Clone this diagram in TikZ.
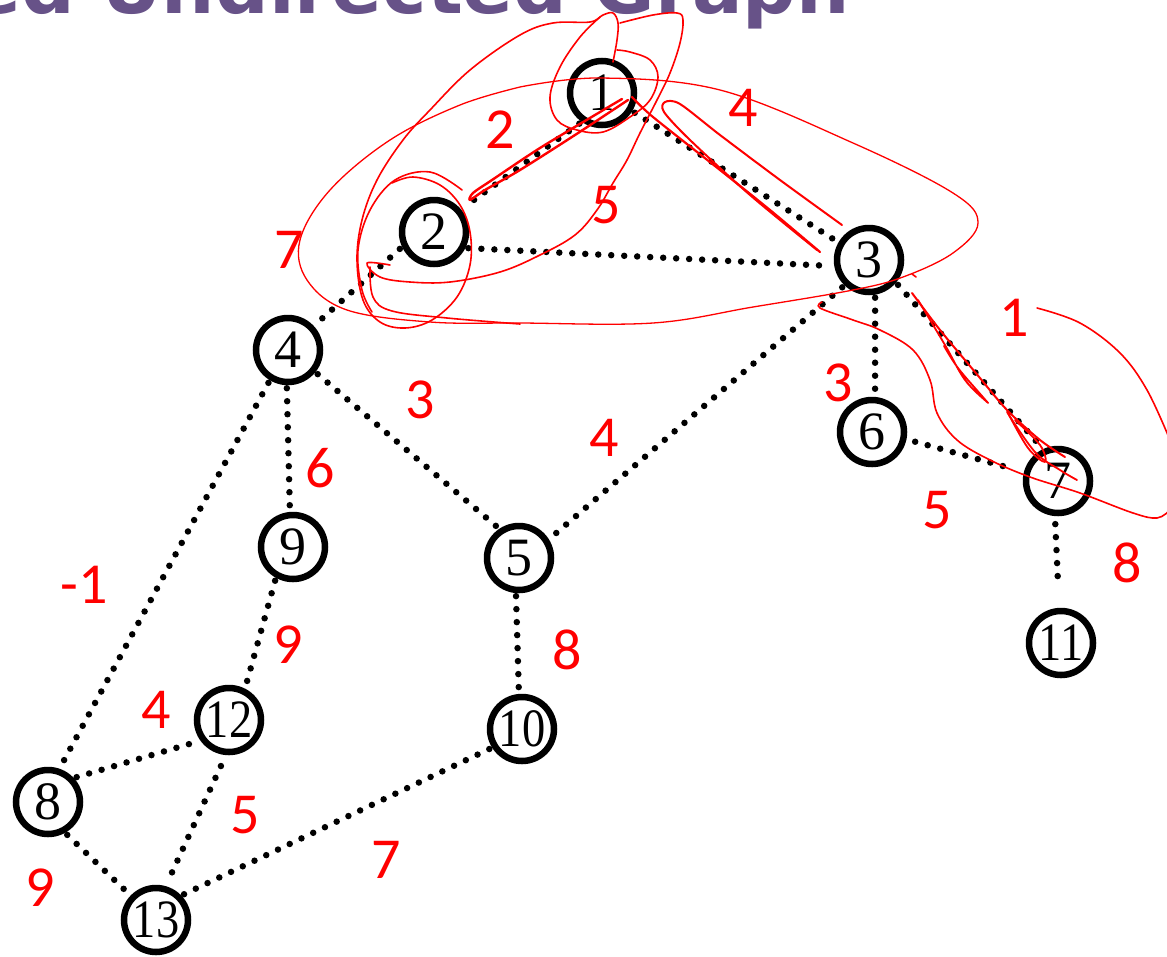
\documentclass[tikz,border=0pt]{standalone}
\usepackage{fontspec}
\newfontfamily\nodefont{Liberation Serif}
\newfontfamily\wfont{Carlito}
\newfontfamily\tfont{DejaVu Sans}
\definecolor{titlepurple}{RGB}{103,82,136}
\begin{document}
\begin{tikzpicture}[x=1pt,y=-1pt,
  vtx/.style={circle, draw=black, line width=6.5pt, minimum size=64pt, inner sep=0pt,
    font=\nodefont\fontsize{54}{54}\selectfont},
  wt/.style={text=red, inner sep=0pt, font=\wfont\fontsize{58}{58}\selectfont},
  dotline/.style={line width=6.5pt, dash pattern=on 0pt off 13pt, line cap=round, shorten <=3pt, shorten >=3pt},
  scrib/.style={red, line width=1.6pt, line cap=round, line join=round}]
\clip (0,0) rectangle (1167,956);
\useasboundingbox (0,0) rectangle (1167,956);
\fill[white] (0,0) rectangle (1167,956);

% title (cut off at the top, as in the reference)
\node[anchor=base east, text=titlepurple, inner sep=0pt,
  font=\tfont\bfseries\fontsize{75}{75}\selectfont] (title) at (850,13) {Weighted Undirected Graph};

% vertices
\node[vtx] (n1) at (602,93) {1};
\node[vtx] (n2) at (434,232) {2};
\node[vtx] (n3) at (869,260) {3};
\node[vtx] (n4) at (288,350) {4};
\node[vtx] (n5) at (519,558) {5};
\node[vtx] (n6) at (872,432) {6};
\node[vtx] (n7) at (1058,481) {7};
\node[vtx] (n8) at (48,802) {8};
\node[vtx] (n9) at (293,547) {9};
\node[vtx] (n10) at (522,729) {\scalebox{0.86}[1]{10}};
\node[vtx] (n11) at (1061,643) {\scalebox{0.86}[1]{11}};
\node[vtx] (n12) at (229,720) {\scalebox{0.86}[1]{12}};
\node[vtx] (n13) at (156,920) {\scalebox{0.86}[1]{13}};

% edges
\draw[dotline, shorten >=12pt] (n1.235) -- (n2.40);
\draw[dotline] (n1.-31) -- (n3.150);
\draw[dotline] (n2.-27) -- (n3.190);
\draw[dotline] (n2.205) -- (n4.43);
\draw[dotline] (n3.226) -- (n5.32);
\draw[dotline] (n3.-80) -- (n6.85);
\draw[dotline] (n3.-40) -- (n7.115);
\draw[dotline, shorten <=9pt, shorten >=13pt] (n6.-12) -- (n7.165);
\draw[dotline, shorten <=8pt, shorten >=25pt] (n7.-95) -- (n11.93);
\draw[dotline] (n4.-39) -- (n5.124);
\draw[dotline] (n4.-92) -- (n9.95);
\draw[dotline] (n4.239) -- (n8.71);
\draw[dotline] (n9.241) -- (n12.63);
\draw[dotline] (n5.-95) -- (n10.95);
\draw[dotline] (n8.43) -- (n12.216);
\draw[dotline] (n8.-61) -- (n13.136);
\draw[dotline, shorten <=12pt] (n12.265) -- (n13.74);
\draw[dotline] (n13.44) -- (n10.212);

% weights
\node[wt] (w12) at (500,130) {2};
\node[wt] (w13) at (743,108) {4};
\node[wt] (w23) at (606,205) {5};
\node[wt] (w24) at (289,250) {7};
\node[wt] (w45) at (420,400) {3};
\node[wt] (w35) at (604,438) {4};
\node[wt] (w49) at (320,468) {6};
\node[wt] (w48) at (84,585) {-1};
\node[wt] (w912) at (288,645) {9};
\node[wt] (w510) at (567,650) {8};
\node[wt] (w812) at (156,710) {4};
\node[wt] (w1213) at (245,815) {5};
\node[wt] (w1310) at (386,860) {7};
\node[wt] (w813) at (40,888) {9};
\node[wt] (w36) at (838,383) {3};
\node[wt] (w37) at (1014,318) {1};
\node[wt] (w67) at (937,510) {5};
\node[wt] (w711) at (1127,563) {8};

% red hand-drawn scribbles
\draw[scrib, line width=1.3pt] plot[smooth, tension=0.6] coordinates {(520,87) (600,78) (720,90) (853,143) (953,193) (978,223) (953,253) (903,277) (853,290) (753,307) (653,323) (520,323) (430,322) (347,310) (307,280) (300,240) (330,190) (390,140) (460,105) (520,87)};
\draw[scrib] plot[smooth, tension=0.6] coordinates {(613,62) (617,40) (618,23) (613,13) (603,15) (590,22) (553,23) (520,35) (470,70) (430,110) (403,140) (377,180) (362,220) (357,260) (363,300) (380,322) (405,328) (432,320) (457,297) (470,265) (470,232) (460,205) (440,185) (413,177) (392,183)};
\draw[scrib] plot[smooth, tension=0.6] coordinates {(462,190) (430,172) (395,180) (370,210) (358,250) (362,290) (372,312)};
\draw[scrib] plot[smooth, tension=0.6] coordinates {(620,23) (653,15) (677,13) (683,20) (680,43) (670,73) (657,100) (640,133) (627,160) (613,183) (597,210) (575,235) (540,255) (500,272) (450,282) (410,282) (380,277) (367,263) (390,265)};
\draw[scrib] plot[smooth, tension=0.6] coordinates {(600,17) (580,37) (560,67) (550,97) (557,120) (577,130) (603,132) (630,117) (650,100) (658,77) (650,60) (630,52) (617,50)};
\draw[scrib] plot[smooth, tension=0.6] coordinates {(370,267) (373,297) (392,311) (447,318) (520,324)};
\draw[scrib, line width=2.4pt] plot[smooth, tension=0.5] coordinates {(628,100) (575,135) (520,170) (485,190) (470,200) (473,193) (492,180) (540,148) (600,112) (622,99)};
\draw[scrib, line width=2.2pt] plot[smooth, tension=0.5] coordinates {(632,97) (653,117) (720,170) (770,210) (820,252)};
\draw[scrib, line width=2pt] plot[smooth, tension=0.5] coordinates {(842,225) (780,180) (720,135) (680,104) (665,102) (664,112) (690,140) (750,195) (817,250)};
\draw[scrib] (912,274) -- (916,277);
\draw[scrib, line width=2pt] plot[smooth, tension=0.5] coordinates {(912,293) (940,330) (975,372) (1007,410) (1040,440) (1065,457)};
\draw[scrib, line width=1.8pt] plot[smooth, tension=0.6] coordinates {(918,300) (945,345) (965,380) (987,402) (982,396) (958,368) (944,346)};
\draw[scrib, line width=1.8pt] plot[smooth, tension=0.6] coordinates {(1008,413) (1028,448) (1045,462) (1040,445) (1015,420)};
\draw[scrib, line width=1.8pt] plot[smooth, tension=0.6] coordinates {(1007,412) (1035,452) (1060,470) (1077,480)};
\draw[scrib] plot[smooth, tension=0.6] coordinates {(822,302) (820,308) (853,320) (880,330) (913,350) (930,380) (937,413) (957,440) (990,460) (1030,477) (1080,493) (1133,513) (1157,518) (1170,510)};
\draw[scrib] plot[smooth, tension=0.6] coordinates {(1037,308) (1080,323) (1120,353) (1147,390) (1170,440)};
\end{tikzpicture}
\end{document}
